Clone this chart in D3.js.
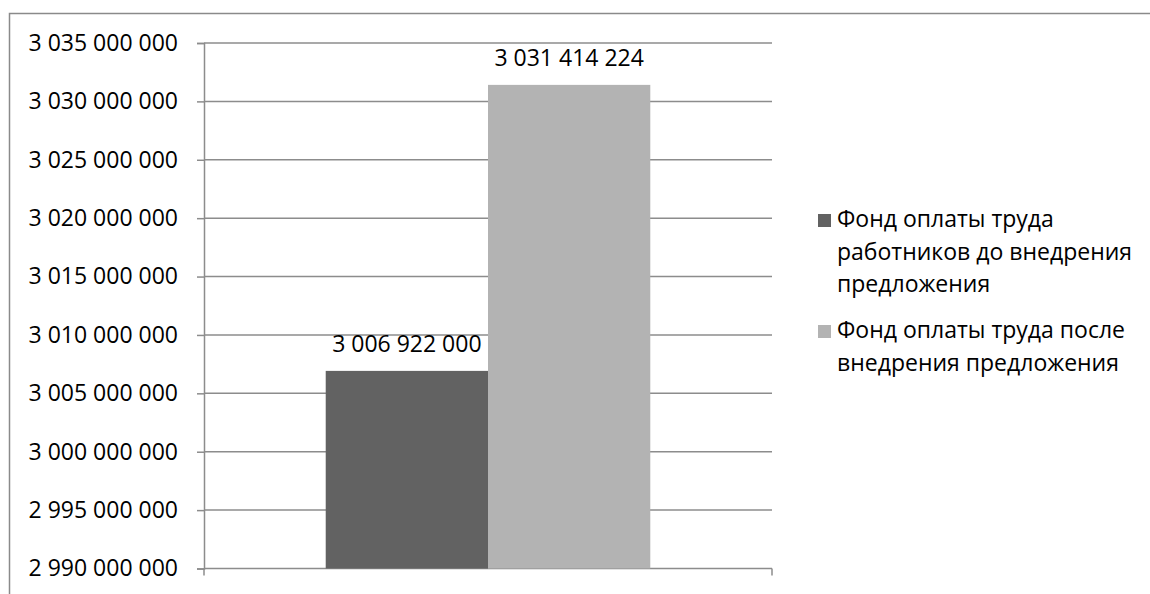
<!DOCTYPE html>
<html>
<head>
<meta charset="utf-8">
<script src="https://cdn.jsdelivr.net/npm/d3@7"></script>
<style>
  html, body { margin: 0; padding: 0; background: #fff; }
  svg { display: block; font-family: "Open Sans", "DejaVu Sans", sans-serif; }
</style>
</head>
<body>
<svg id="chart" width="1150" height="594"></svg>
<script>
// Payroll fund before and after the proposal is implemented
const seriesNames = [
  "Фонд оплаты труда работников до внедрения предложения",
  "Фонд оплаты труда после внедрения предложения"
];
const seriesValues = [3006922000, 3031414224];
const seriesColors = ["#626262", "#b3b3b3"];
const legendLines = [
  ["Фонд оплаты труда", "работников до внедрения", "предложения"],
  ["Фонд оплаты труда после", "внедрения предложения"]
];
const yTicks = [2990000000, 2995000000, 3000000000, 3005000000, 3010000000,
                3015000000, 3020000000, 3025000000, 3030000000, 3035000000];

const svg = d3.select("#chart");
const fmt = v => d3.format(",")(v).replace(/,/g, " ");

const plot = { left: 204, right: 772, top: 43, bottom: 568.5 };
const fontSize = 23;
const gridColor = "#8c8c8c";

// outer frame (extends past the right and bottom edges)
svg.append("rect")
  .attr("x", 9.5).attr("y", 13.5)
  .attr("width", 1300).attr("height", 700)
  .attr("fill", "none").attr("stroke", "#8a8a8a").attr("stroke-width", 1.5);

const y = d3.scaleLinear()
  .domain([yTicks[0], yTicks[yTicks.length - 1]])
  .range([plot.bottom, plot.top]);

// one category, two bars side by side, 75% gap width split on both sides
const x0 = d3.scaleBand().domain(["all"]).range([plot.left, plot.right])
  .paddingInner(0).paddingOuter(0.375);
const x1 = d3.scaleBand().domain(d3.range(seriesValues.length))
  .range([x0("all"), x0("all") + x0.bandwidth()]).padding(0);

// gridlines
svg.append("g").selectAll("line").data(yTicks.slice(1)).join("line")
  .attr("x1", plot.left).attr("x2", plot.right)
  .attr("y1", d => y(d)).attr("y2", d => y(d))
  .attr("stroke", gridColor).attr("stroke-width", 1.5);

// y axis
const yAxis = svg.append("g")
  .attr("transform", `translate(${plot.left},0)`)
  .call(d3.axisLeft(y).tickValues(yTicks).tickFormat(fmt).tickSize(7).tickPadding(19));
yAxis.select(".domain").attr("stroke", gridColor).attr("stroke-width", 1.5);
yAxis.selectAll(".tick line").attr("stroke", gridColor).attr("stroke-width", 1.5);
yAxis.selectAll(".tick text")
  .attr("font-size", fontSize).attr("fill", "#000")
  .attr("font-family", "'Open Sans', sans-serif");

// x axis (no labels, tick marks at category edges)
const xAxis = svg.append("g")
  .attr("transform", `translate(0,${plot.bottom})`);
xAxis.append("line")
  .attr("x1", plot.left).attr("x2", plot.right)
  .attr("stroke", gridColor).attr("stroke-width", 1.5);
xAxis.selectAll("line.tk").data([plot.left, plot.right]).join("line")
  .attr("class", "tk")
  .attr("x1", d => d).attr("x2", d => d).attr("y1", 0).attr("y2", 7)
  .attr("stroke", gridColor).attr("stroke-width", 1.5);

// bars
svg.append("g").selectAll("rect").data(seriesValues).join("rect")
  .attr("x", (d, i) => x1(i))
  .attr("width", x1.bandwidth())
  .attr("y", d => y(d))
  .attr("height", d => plot.bottom - y(d))
  .attr("fill", (d, i) => seriesColors[i]);

// value labels
svg.append("g").selectAll("text").data(seriesValues).join("text")
  .attr("x", (d, i) => x1(i) + x1.bandwidth() / 2)
  .attr("y", d => y(d) - 19)
  .attr("text-anchor", "middle")
  .attr("font-size", fontSize).attr("fill", "#000")
  .text(d => fmt(d));

// legend
const legendTop = [227, 338];
const legend = svg.append("g");
legendLines.forEach((lines, i) => {
  legend.append("rect")
    .attr("x", 818).attr("y", legendTop[i] - 13)
    .attr("width", 13).attr("height", 13)
    .attr("fill", seriesColors[i]);
  legend.append("text")
    .attr("x", 837).attr("y", legendTop[i])
    .attr("font-size", fontSize).attr("fill", "#000")
    .selectAll("tspan").data(lines).join("tspan")
    .attr("x", 837).attr("dy", (d, j) => j === 0 ? 0 : 32.5)
    .text(d => d);
});
</script>
</body>
</html>
